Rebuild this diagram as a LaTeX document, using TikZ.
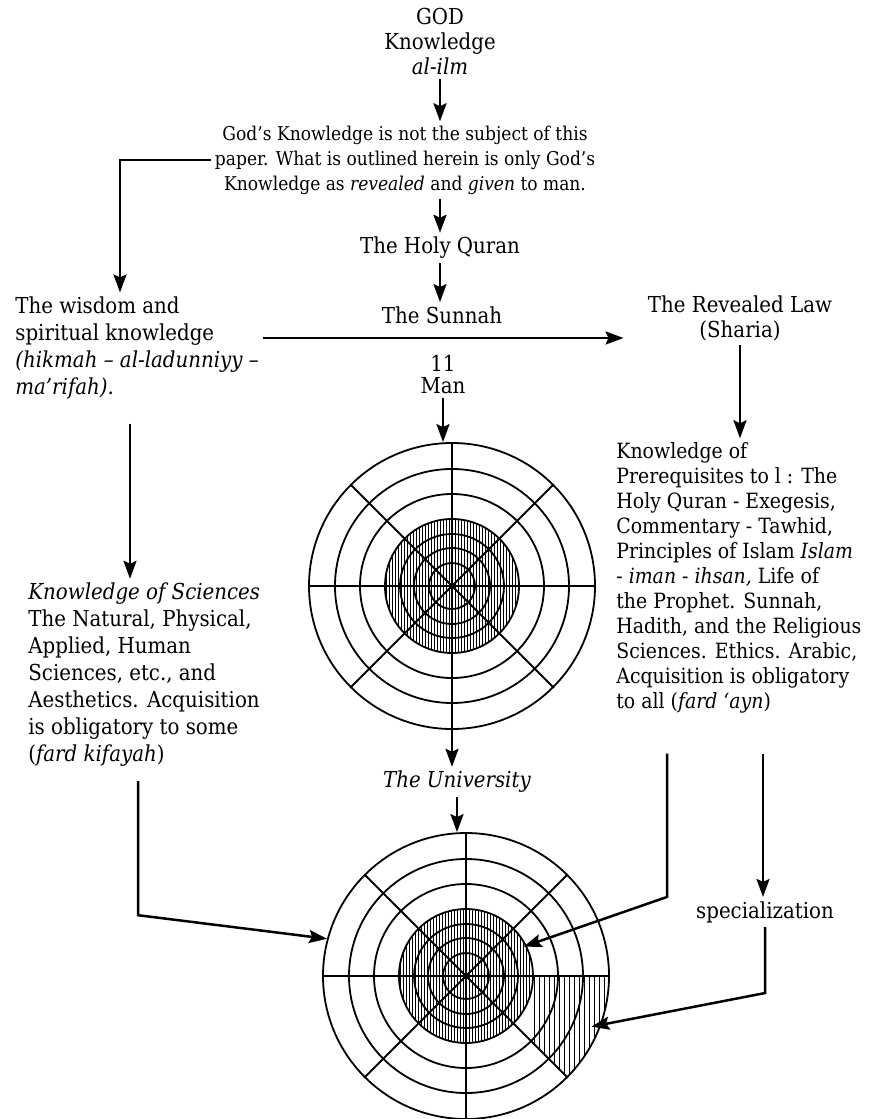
\documentclass[tikz,border=0pt]{standalone}
\usepackage{fontspec}
\setmainfont{DejaVu Serif Condensed}
\usetikzlibrary{arrows.meta,calc}

\begin{document}
\begin{tikzpicture}[x=0.5pt,y=-0.5pt,
        txt/.style={font=\fontsize{11}{12.5}\selectfont,inner sep=2pt},
        wide/.style={font=\fontsize{11}{13.5}\selectfont},
        arr/.style={line width=1.25pt,-{Stealth[length=9pt,width=6.5pt,inset=1.5pt]}},
        ring/.style={line width=0.9pt},
        hatch/.style={line width=0.5pt}]
        \useasboundingbox (0,0) rectangle (869,1119);

        % centre column
        \node[txt,align=center] (god) at (440,41) {GOD\\Knowledge\\\textit{al-ilm}};
        \node[txt,align=center,font=\fontsize{9.5}{12.5}\selectfont] (para) at (405,160) {God’s Knowledge is not the subject of this\\paper. What is outlined herein is only God’s\\Knowledge as \textit{revealed} and \textit{given} to man.};
        \node[txt] (quran) at (440,248) {The Holy Quran};
        \node[txt] (sun) at (442,315) {The Sunnah};
        \node[txt,align=center,font=\fontsize{11}{11}\selectfont] (man) at (443,374) {11\\Man};
        \node[txt] (uni) at (457,782) {\textit{The University}};

        % left column
        \node[txt,wide,align=left,anchor=west] (wis) at (11,348) {The wisdom and\\spiritual knowledge\\\textit{(hikmah – al-ladunniyy –}\\\textit{ma’rifah).}};
        \node[txt,wide,align=left,anchor=west] (sci) at (24,675) {\textit{Knowledge of Sciences}\\The Natural, Physical,\\Applied, Human\\Sciences, etc., and\\Aesthetics. Acquisition\\is obligatory to some\\(\textit{fard kifayah})};

        % right column
        \node[txt,align=center] (law) at (740,318) {The Revealed Law\\(Sharia)};
        \node[txt,align=left,anchor=west,font=\fontsize{10.5}{12.5}\selectfont] (pre) at (612,578) {Knowledge of\\Prerequisites to l : The\\Holy Quran - Exegesis,\\Commentary - Tawhid,\\Principles of Islam \textit{Islam}\\- \textit{iman - ihsan,} Life of\\the Prophet. Sunnah,\\Hadith, and the Religious\\Sciences. Ethics. Arabic,\\Acquisition is obligatory\\to all (\textit{fard ‘ayn})};
        \node[txt] (spec) at (765,912) {specialization};

        % the two targets
        \node[circle,draw,ring,minimum size=143pt,inner sep=0pt] (t1) at (452,586) {};
        \node[circle,draw,ring,minimum size=143pt,inner sep=0pt] (t2) at (466,976) {};
        \foreach \c in {t1,t2} {
            \begin{scope}
                \clip (\c.center) circle (67);
                \foreach \h in {-66,-63,...,66}
                    \draw[hatch] ($(\c.center)+(\h,-70)$) -- ++(0,140);
            \end{scope}
            \foreach \r in {117,92,67,52,38,23}
                \draw[ring] (\c.center) circle (\r);
            \draw[ring] (\c.north) -- (\c.south) (\c.west) -- (\c.east)
                (\c.45) -- (\c.225) (\c.135) -- (\c.315);
        }
        \begin{scope}
            \clip ($(t2.center)+(0:67)$) -- ($(t2.center)+(0:143)$) arc[start angle=0,end angle=45,radius=143]
                -- ($(t2.center)+(45:67)$) arc[start angle=45,end angle=0,radius=67] -- cycle;
            \foreach \h in {68,73,...,143}
                \draw[hatch] ($(t2.center)+(\h,-5)$) -- ++(0,110);
        \end{scope}

        % connectors
        \draw[arr] (god.south) -- (god.south |- para.north);
        \draw[arr] (para.west) -| ($(wis.north west)+(109,0)$);
        \draw[arr] (para.south -| quran) -- (quran.north);
        \draw[arr] (quran.south) -- (quran.south |- sun.north);
        \path ([yshift=5pt]wis.east) coordinate (hl);
        \draw[arr,shorten >=10pt] (hl) -- (hl -| law.west);
        \draw[arr] (man.south) -- (man.south |- t1.north);
        \path ([xshift=59.5pt,yshift=-10pt]wis.south west) coordinate (wd);
        \draw[arr] (wd) -- (wd |- sci.north);
        \draw[arr] (law.south) -- (law.south |- pre.north);
        \draw[arr] (t1.south) -- (t1.south |- uni.north);
        \draw[arr] (uni.south) -- (uni.south |- t2.north);
        \path ([xshift=57pt,yshift=-5pt]sci.south west) coordinate (sd);
        \draw[arr] (sd) -- (sd |- t2.155) -- (t2.165);
        \path ([xshift=27.5pt,yshift=-18pt]pre.south west) coordinate (pd1);
        \path ([xshift=75.5pt,yshift=-18pt]pre.south west) coordinate (pd2);
        \draw[arr] (pd1) -- (pd1 |- spec.north) -- ($(t2.center)!0.45!(t2.27)$);
        \draw[arr] (pd2) -- (pd2 |- spec.north);
        \draw[arr] (spec.south) -- ++(0,66) -- ($(t2.center)!0.94!(t2.-22)$);
\end{tikzpicture}
\end{document}
